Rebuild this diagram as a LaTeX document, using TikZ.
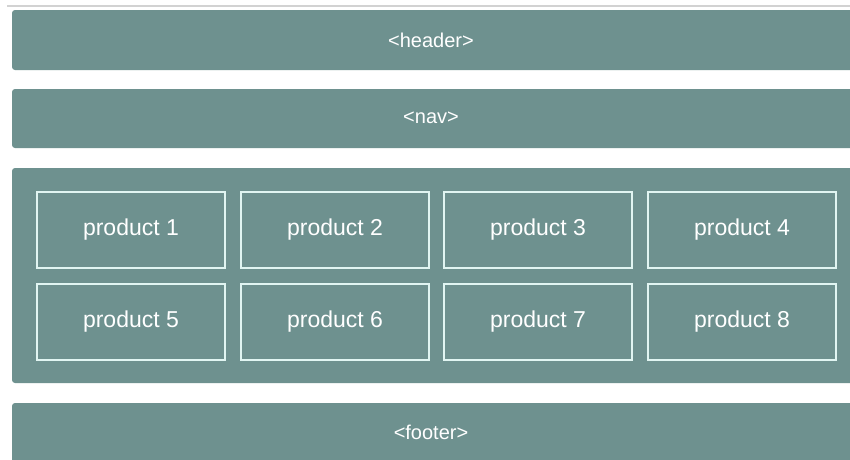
\documentclass[tikz,border=0pt]{standalone}
\usepackage{fontspec}
\setmainfont{Liberation Sans}
\definecolor{teal}{RGB}{110,145,143}
\definecolor{edge}{RGB}{225,245,242}
\tikzset{
  bar/.style={fill=teal, draw=none, rounded corners=3pt},
  prod/.style={draw=edge, line width=1.3pt, fill=teal, minimum width=188pt, minimum height=76pt, inner sep=0pt, text=white, font=\fontsize{23}{26}\selectfont},
  lbl/.style={text=white, font=\fontsize{20}{24}\selectfont}
}
\begin{document}
\begin{tikzpicture}[x=1pt,y=1pt]
\useasboundingbox (0,0) rectangle (850,-459);
\fill[white] (0,0) rectangle (850,-459);
\draw[gray!35, line width=1.5pt] (7,-6) -- (850,-6);
\fill[bar] (12,-10) rectangle (856,-70);
\node[lbl] (header) at (431,-40) {<header>};
\fill[bar] (12,-89) rectangle (856,-148);
\node[lbl] (nav) at (431,-118) {<nav>};
\fill[bar] (12,-168) rectangle (856,-383);
\fill[bar] (12,-403) rectangle (856,-465);
\node[lbl] (footer) at (431,-432) {<footer>};
\node[prod] (p1) at (131,-230) {product 1};
\node[prod] (p2) at (335,-230) {product 2};
\node[prod] (p3) at (538,-230) {product 3};
\node[prod] (p4) at (742,-230) {product 4};
\node[prod] (p5) at (131,-322) {product 5};
\node[prod] (p6) at (335,-322) {product 6};
\node[prod] (p7) at (538,-322) {product 7};
\node[prod] (p8) at (742,-322) {product 8};
\end{tikzpicture}
\end{document}
